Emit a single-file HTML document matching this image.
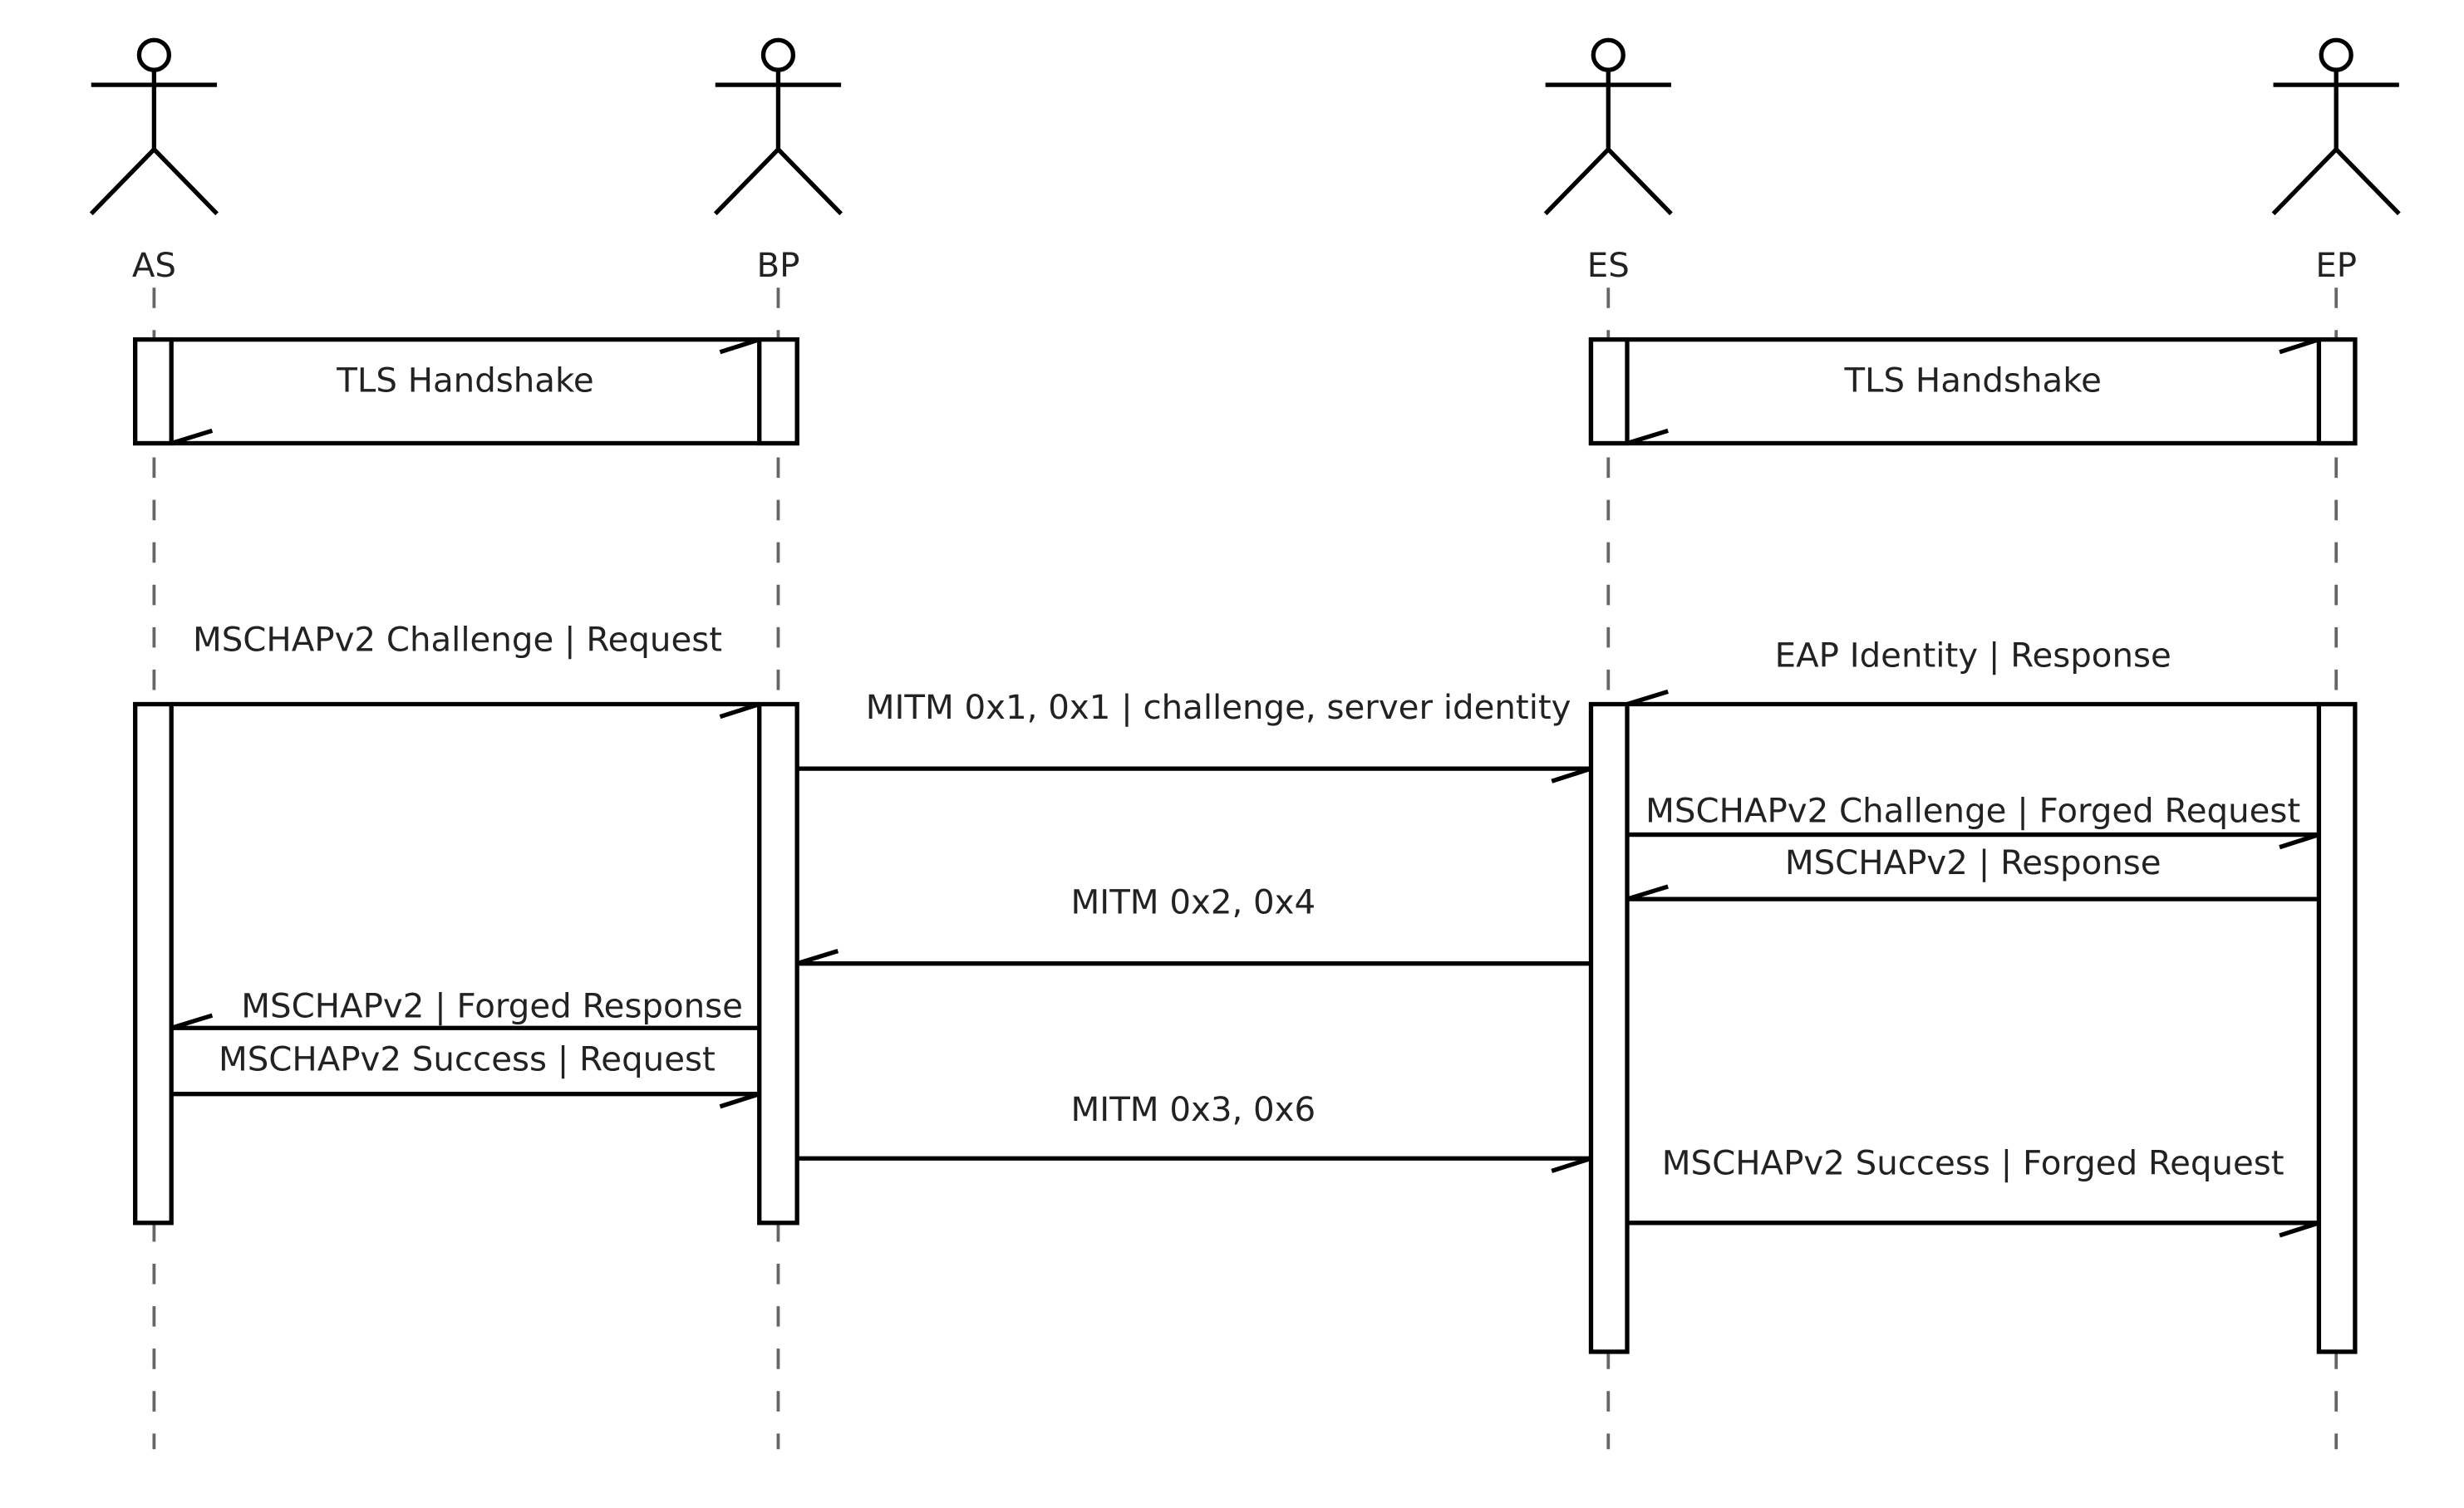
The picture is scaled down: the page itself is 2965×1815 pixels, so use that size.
<!DOCTYPE html>
<html><head><meta charset="utf-8"><style>
html,body{margin:0;padding:0;background:#fff;}
svg{display:block;}
text{font-family:"DejaVu Sans","Liberation Sans",sans-serif;font-size:21.3px;fill:#222;text-anchor:middle;dominant-baseline:central;}
</style></head><body>
<svg width="2965" height="1815" viewBox="0 0 1567.3 959.4" preserveAspectRatio="none" xmlns="http://www.w3.org/2000/svg">
<g stroke="#666" stroke-width="2" stroke-dasharray="13 14" fill="none">
<line x1="98" y1="183" x2="98" y2="922"/>
<line x1="495" y1="183" x2="495" y2="922"/>
<line x1="1023" y1="183" x2="1023" y2="922"/>
<line x1="1486" y1="183" x2="1486" y2="922"/>
</g>
<g stroke="#000" stroke-width="2.8" fill="none">
<g id="a1"><circle cx="98" cy="35" r="9.5"/><line x1="98" y1="45" x2="98" y2="95"/><line x1="58" y1="54" x2="138" y2="54"/><line x1="98" y1="95" x2="58" y2="136"/><line x1="98" y1="95" x2="138" y2="136"/></g>
<use href="#a1" x="397"/><use href="#a1" x="925"/><use href="#a1" x="1388"/>
</g>
<text x="98" y="169">AS</text><text x="495" y="169">BP</text><text x="1023" y="169">ES</text><text x="1486" y="169">EP</text>
<g stroke="#000" stroke-width="2.8" fill="#fff">
<rect x="86" y="216" width="421" height="66"/>
<rect x="86" y="216" width="23" height="66"/>
<rect x="483" y="216" width="24" height="66"/>
<rect x="1012" y="216" width="486" height="66"/>
<rect x="1012" y="216" width="23" height="66"/>
<rect x="1475" y="216" width="23" height="66"/>
<rect x="86" y="448" width="23" height="330"/>
<rect x="483" y="448" width="24" height="330"/>
<rect x="1012" y="448" width="23" height="412"/>
<rect x="1475" y="448" width="23" height="412"/>
</g>
<g stroke="#000" stroke-width="2.8" fill="none">
<line x1="483" y1="216" x2="458" y2="224"/><line x1="109" y1="282" x2="135" y2="274"/>
<line x1="1475" y1="216" x2="1450" y2="224"/><line x1="1035" y1="282" x2="1061" y2="274"/>
<line x1="109" y1="448" x2="483" y2="448"/><line x1="483" y1="448" x2="458" y2="456"/>
<line x1="1035" y1="448" x2="1475" y2="448"/><line x1="1035" y1="448" x2="1061" y2="440"/>
<line x1="507" y1="489" x2="1012" y2="489"/><line x1="1012" y1="489" x2="987" y2="497"/>
<line x1="1035" y1="531" x2="1475" y2="531"/><line x1="1475" y1="531" x2="1450" y2="539"/>
<line x1="1035" y1="572" x2="1475" y2="572"/><line x1="1035" y1="572" x2="1061" y2="564"/>
<line x1="507" y1="613" x2="1012" y2="613"/><line x1="507" y1="613" x2="533" y2="605"/>
<line x1="109" y1="654" x2="483" y2="654"/><line x1="109" y1="654" x2="135" y2="646"/>
<line x1="109" y1="696" x2="483" y2="696"/><line x1="483" y1="696" x2="458" y2="704"/>
<line x1="507" y1="737" x2="1012" y2="737"/><line x1="1012" y1="737" x2="987" y2="745"/>
<line x1="1035" y1="778" x2="1475" y2="778"/><line x1="1475" y1="778" x2="1450" y2="786"/>
</g>
<text x="296" y="242">TLS Handshake</text>
<text x="1255" y="242">TLS Handshake</text>
<text x="291" y="407">MSCHAPv2 Challenge | Request</text>
<text x="1255" y="417">EAP Identity | Response</text>
<text x="775" y="450">MITM 0x1, 0x1 | challenge, server identity</text>
<text x="1255" y="516">MSCHAPv2 Challenge | Forged Request</text>
<text x="1255" y="549">MSCHAPv2 | Response</text>
<text x="759" y="574">MITM 0x2, 0x4</text>
<text x="313" y="640">MSCHAPv2 | Forged Response</text>
<text x="297" y="674">MSCHAPv2 Success | Request</text>
<text x="759" y="706">MITM 0x3, 0x6</text>
<text x="1255" y="740">MSCHAPv2 Success | Forged Request</text>
</svg>
</body></html>
